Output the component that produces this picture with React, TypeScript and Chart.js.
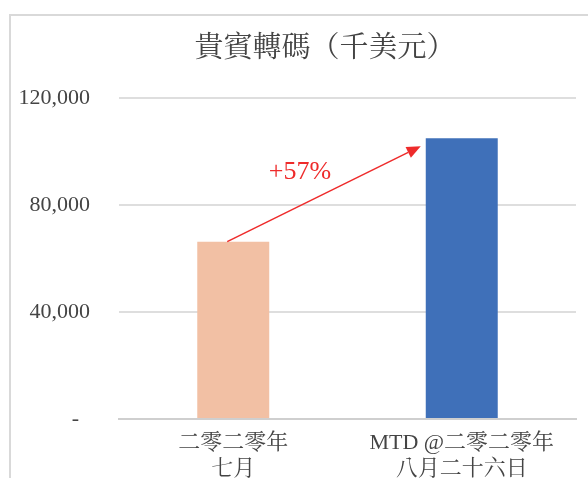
import React, { useEffect, useRef } from "react";
import { Chart, registerables } from "chart.js";

Chart.register(...registerables);

const title = "貴賓轉碼（千美元）";
const categories = [["二零二零年", "七月"], ["MTD @二零二零年", "八月二十六日"]];
const values = [66300, 105000];
const barColors = ["#F2C0A4", "#3F70B9"];
const yMin = 0;
const yMax = 120000;
const yStep = 40000;
const growthLabel = "+57%";

const FONT = "'Liberation Serif', 'Noto Serif CJK TC', 'Noto Sans CJK TC', serif";
const TEXT = "#444444";
const RED = "#EE2B2B";

const decorPlugin = {
  id: "decor",
  beforeDraw(chart: any) {
    const { ctx, width, height } = chart;
    ctx.save();
    ctx.fillStyle = "#ffffff";
    ctx.fillRect(0, 0, width, height);
    ctx.strokeStyle = "#d9d9d9";
    ctx.lineWidth = 2;
    ctx.beginPath();
    ctx.moveTo(2, height + 10);
    ctx.lineTo(2, 7);
    ctx.lineTo(width + 10, 7);
    ctx.stroke();
    // title
    ctx.fillStyle = TEXT;
    ctx.font = `29px ${FONT}`;
    ctx.textAlign = "center";
    ctx.textBaseline = "middle";
    ctx.fillText(title, 317, 41);
    ctx.restore();
  },
  afterDatasetsDraw(chart: any) {
    const { ctx } = chart;
    const meta = chart.getDatasetMeta(0);
    const b0 = meta.data[0];
    const b1 = meta.data[1];
    if (!b0 || !b1) return;
    const sx = b0.x - 6;
    const sy = b0.y;
    const ex = b1.x - b1.width / 2 - 5;
    const ey = b1.y + 8;
    const ang = Math.atan2(ey - sy, ex - sx);
    const headLen = 14;
    const headHalf = 6;
    const bx = ex - headLen * Math.cos(ang);
    const by = ey - headLen * Math.sin(ang);
    ctx.save();
    ctx.strokeStyle = RED;
    ctx.fillStyle = RED;
    ctx.lineWidth = 1.5;
    ctx.beginPath();
    ctx.moveTo(sx, sy);
    ctx.lineTo(bx, by);
    ctx.stroke();
    ctx.beginPath();
    ctx.moveTo(ex, ey);
    ctx.lineTo(bx + headHalf * Math.sin(ang), by - headHalf * Math.cos(ang));
    ctx.lineTo(bx - headHalf * Math.sin(ang), by + headHalf * Math.cos(ang));
    ctx.closePath();
    ctx.fill();
    ctx.font = `26px ${FONT}`;
    ctx.textAlign = "center";
    ctx.textBaseline = "middle";
    ctx.fillText(growthLabel, (sx + ex) / 2 - 24, (sy + ey) / 2 - 22);
    ctx.restore();
  },
};

export default function App() {
  const ref = useRef<HTMLCanvasElement | null>(null);
  useEffect(() => {
    if (!ref.current) return;
    const chart = new Chart(ref.current, {
      type: "bar",
      data: {
        labels: categories,
        datasets: [
          {
            data: values,
            backgroundColor: barColors,
            borderWidth: 0,
            categoryPercentage: 1,
            barPercentage: 0.315,
          },
        ],
      },
      options: {
        responsive: false,
        animation: false,
        devicePixelRatio: 1,
        layout: { padding: { top: 90, left: 0, right: 12, bottom: 0 } },
        plugins: {
          legend: { display: false },
          title: { display: false },
          tooltip: { enabled: false },
        },
        scales: {
          x: {
            grid: { display: false },
            border: { display: true, color: "#cfcfcf", width: 2 },
            ticks: {
              color: TEXT,
              font: { family: FONT, size: 22, lineHeight: 1.2 },
              padding: 3,
              maxRotation: 0,
              autoSkip: false,
            },
            afterFit: (s: any) => {
              s.height = 59;
            },
          },
          y: {
            min: yMin,
            max: yMax,
            grid: {
              color: (c: any) => (c.tick && c.tick.value === 0 ? "#cfcfcf" : "#dedede"),
              lineWidth: 2,
              drawTicks: false,
            },
            border: { display: false },
            ticks: {
              stepSize: yStep,
              color: TEXT,
              font: { family: FONT, size: 22 },
              padding: 29,
              callback: (v: any) => (Number(v) === 0 ? "-  " : Number(v).toLocaleString("en-US")),
            },
            afterFit: (s: any) => {
              s.width = 111;
            },
          },
        },
      },
      plugins: [decorPlugin],
    });
    return () => chart.destroy();
  }, []);
  return (
    <div style={{ position: "fixed", left: 8, top: 8 }}>
      <canvas ref={ref} width={580} height={470} style={{ display: "block" }} />
    </div>
  );
}
